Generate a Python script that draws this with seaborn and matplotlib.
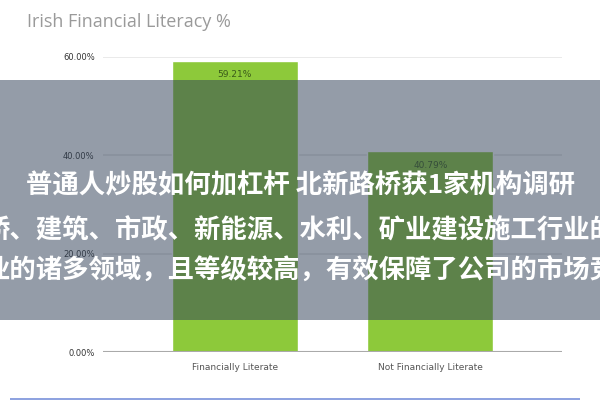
import matplotlib
matplotlib.use("Agg")
import matplotlib.pyplot as plt
import seaborn as sns
import pandas as pd
from matplotlib.patches import Rectangle

categories = ["Financially Literate", "Not Financially Literate"]
values = [59.21, 40.79]
value_labels = ["59.21%", "40.79%"]
yticks = [0, 20, 40, 60]
ytick_labels = ["0.00%", "20.00%", "40.00%", "60.00%"]
title = "Irish Financial Literacy %"
overlay_lines = [
    "普通人炒股如何加杠杆 北新路桥获1家机构调研",
    "桥、建筑、市政、新能源、水利、矿业建设施工行业的",
    "业的诸多领域，且等级较高，有效保障了公司的市场竞",
]

sns.set_theme(style="white")
plt.rcParams['font.family'] = ['DejaVu Sans']

df = pd.DataFrame({"cat": categories, "val": values})

fig = plt.figure(figsize=(6, 4), dpi=100)
fig.patch.set_facecolor("white")
ax = fig.add_axes([103/600, 48/400, (562-103)/600, (352-57)/400])
ax.set_facecolor("white")

sns.barplot(data=df, x="cat", y="val", color="#8dc93a", saturation=1,
            width=0.645, ax=ax, zorder=3)
ax.set_xlim(-0.675, 1.673)
ax.set_ylim(0, 60)

for y in yticks[1:]:
    ax.axhline(y, color="#e6e6e6", lw=1.2, zorder=1)
ax.axhline(0, color="#aaaaaa", lw=1.5, zorder=4)

for i, (v, lab) in enumerate(zip(values, value_labels)):
    ax.text(i, v - 2.8, lab, ha="center", va="center", fontsize=6.5,
            color="#3a5a1a", zorder=5)

ax.set_yticks(yticks)
ax.set_yticklabels(ytick_labels, fontsize=6, color="#333333")
ax.tick_params(axis="y", length=0, pad=6)
ax.tick_params(axis="x", length=0, pad=8, labelsize=6.5, labelcolor="#555555")
ax.set_xlabel("")
ax.set_ylabel("")
for s in ax.spines.values():
    s.set_visible(False)

fig.text(27/600, 1 - 22/400, title, ha="left", va="center", fontsize=13,
         color="#9a9a9a", family=["Open Sans", "DejaVu Sans"])

# semi-transparent overlay band
fig.patches.append(Rectangle((0, 1 - 320/400), 1, 240/400, transform=fig.transFigure,
                             facecolor="#324259", alpha=0.52, edgecolor="none", zorder=10))
ys = [186, 231, 271]
for line, y in zip(overlay_lines, ys):
    fig.text(0.5, 1 - y/400, line, ha="center", va="center", fontsize=19,
             fontweight="bold", color="white", zorder=11,
             family=["Noto Sans CJK SC", "DejaVu Sans"])

# bottom blue line
fig.patches.append(Rectangle((10/600, 0), 570/600, 2.5/400, transform=fig.transFigure,
                             facecolor="#8fa3e0", edgecolor="none", zorder=10))

fig.savefig("out.png", dpi=100)
